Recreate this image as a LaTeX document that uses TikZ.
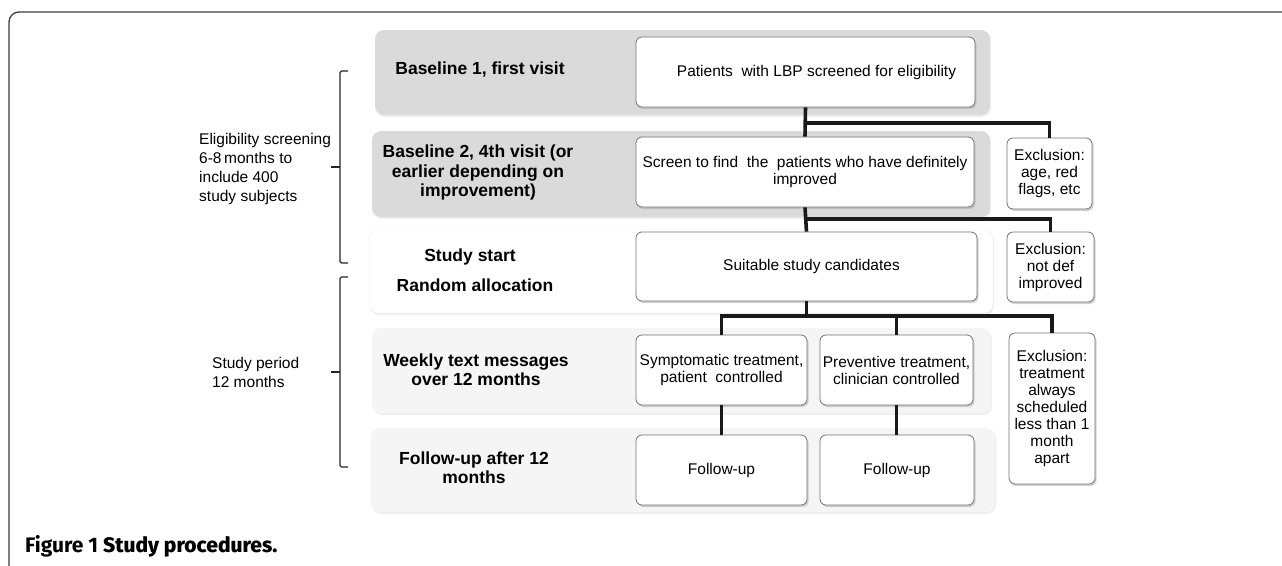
\documentclass[tikz,border=0pt]{standalone}
\usepackage{fontspec}
\setmainfont{Liberation Sans}
\newfontfamily\capfont{Fira Sans}
\newfontfamily\capmed{Fira Sans Medium}
\usetikzlibrary{shadows}
\definecolor{bandA}{RGB}{218,218,218}
\definecolor{bandB}{RGB}{245,245,245}
\definecolor{frameC}{RGB}{60,60,60}
\begin{document}
\begin{tikzpicture}[x=1pt,y=-1pt,
  box/.style={draw=black!55, line width=0.8pt, fill=white, rounded corners=6pt,
    inner sep=0pt, align=center, font=\fontsize{15.5}{17}\selectfont,
    drop shadow={shadow xshift=1.5pt, shadow yshift=-2pt, fill=black!35}},
  band/.style={rounded corners=9pt, inner sep=0pt,
    drop shadow={shadow xshift=1pt, shadow yshift=-2pt, fill=black!12}},
  lab/.style={inner sep=0pt, align=center, font=\bfseries\fontsize{17.5}{19.5}\selectfont},
  side/.style={inner sep=0pt, align=left, anchor=west, font=\fontsize{15.5}{19}\selectfont},
  conn/.style={line width=3.6pt, black!90, line join=miter},
  brace/.style={line width=1.2pt, black!85, rounded corners=1.5pt}
]
\useasboundingbox[fill=white] (0,0) rectangle (1282,565);
% frame
\draw[frameC, line width=1.3pt, rounded corners=10pt] (9,568) -- (9,12) -- (1290,12);
% bands
\node[band, fill=bandA, minimum width=615pt, minimum height=85pt] (b1) at (682.5,72.5) {};
\node[band, fill=bandA, minimum width=618pt, minimum height=86pt] (b2) at (681,174) {};
\node[band, fill=white, draw=black!6, minimum width=624pt, minimum height=83pt] (b3) at (681,271.5) {};
\node[band, fill=bandB, minimum width=619pt, minimum height=85pt] (b4) at (681.5,370.5) {};
\node[band, fill=bandB, minimum width=624pt, minimum height=84pt] (b5) at (683,470) {};
% row labels
\node[lab] (l1) at (480,70) {Baseline 1, first visit};
\node[lab] (l2) at (478,172.5) {Baseline 2, 4th visit (or\\earlier depending on\\improvement)};
\node[lab] (l3a) at (470,257) {Study start};
\node[lab] (l3b) at (475,285) {Random allocation};
\node[lab] (l4) at (476,369.5) {Weekly text messages\\over 12 months};
\node[lab] (l5) at (474,467.5) {Follow-up after 12\\months};
% boxes
\node[box, minimum width=339pt, minimum height=70pt] (p1) at (805.5,72) {\hspace*{22pt}Patients\ \ with LBP screened for eligibility};
\node[box, minimum width=338pt, minimum height=70pt] (s1) at (805,172) {Screen to find\ \ the\ \ patients who have definitely\\improved};
\node[box, minimum width=341pt, minimum height=69pt] (c1) at (806.5,266.5) {\hspace*{10pt}Suitable study candidates};
\node[box, minimum width=171pt, minimum height=70pt] (sy) at (721.5,370) {Symptomatic treatment,\\patient\ \ controlled};
\node[box, minimum width=153pt, minimum height=70pt] (pr) at (896.5,370) {Preventive treatment,\\clinician controlled};
\node[box, minimum width=171pt, minimum height=70pt] (f1) at (721.5,470) {Follow-up};
\node[box, minimum width=154pt, minimum height=70pt] (f2) at (897,470) {Follow-up};
\node[box, minimum width=85pt, minimum height=71pt] (e1) at (1049.5,173.5) {Exclusion:\\age, red\\flags, etc};
\node[box, minimum width=87pt, minimum height=70pt] (e2) at (1050.5,267) {Exclusion:\\not def\\improved};
\node[box, minimum width=86pt, minimum height=151pt] (e3) at (1052,408.5) {Exclusion:\\treatment\\always\\scheduled\\less than 1\\month\\apart};
% junction coordinates
\coordinate (j1) at (805,123);
\coordinate (j2) at (805,219);
\coordinate (j3) at (805,316);
% connectors
\draw[conn] (p1.south) -- (s1.north);
\draw[conn] (j1) -| (e1.north);
\draw[conn] (s1.south) -- (c1.south |- c1.north);
\draw[conn] (j2) -| (e2.north);
\draw[conn] (c1.south) -- (c1.south |- j3);
\draw[conn] (sy.north) |- (e3.north |- j3) -- (e3.north);
\draw[conn] (pr.north) -- (pr.north |- j3);
\draw[conn] (sy.south) -- (f1.north);
\draw[conn] (pr.south) -- (pr.south |- f2.north);
% side labels
\node[side] (t1) at (199,168.5) {Eligibility screening\\6-8\,months to\\include 400\\study subjects};
\node[side] (t2) at (212,372.5) {Study period\\12 months};
\coordinate (k1a) at (348,71);
\coordinate (k1b) at (348,263);
\coordinate (k2a) at (348,277);
\coordinate (k2b) at (348,467);
\draw[brace] (k1a) -- (340,71) -- (340,263) -- (k1b);
\draw[brace] (340,167) -- (331,167);
\draw[brace] (k2a) -- (340,277) -- (340,467) -- (k2b);
\draw[brace] (340,372) -- (331,372);
% caption
\node[inner sep=0pt, anchor=west, font=\fontsize{21}{24}\selectfont] (cap) at (25,546) {\capfont\bfseries Figure 1 {\capmed Study procedures.}};
\end{tikzpicture}
\end{document}
